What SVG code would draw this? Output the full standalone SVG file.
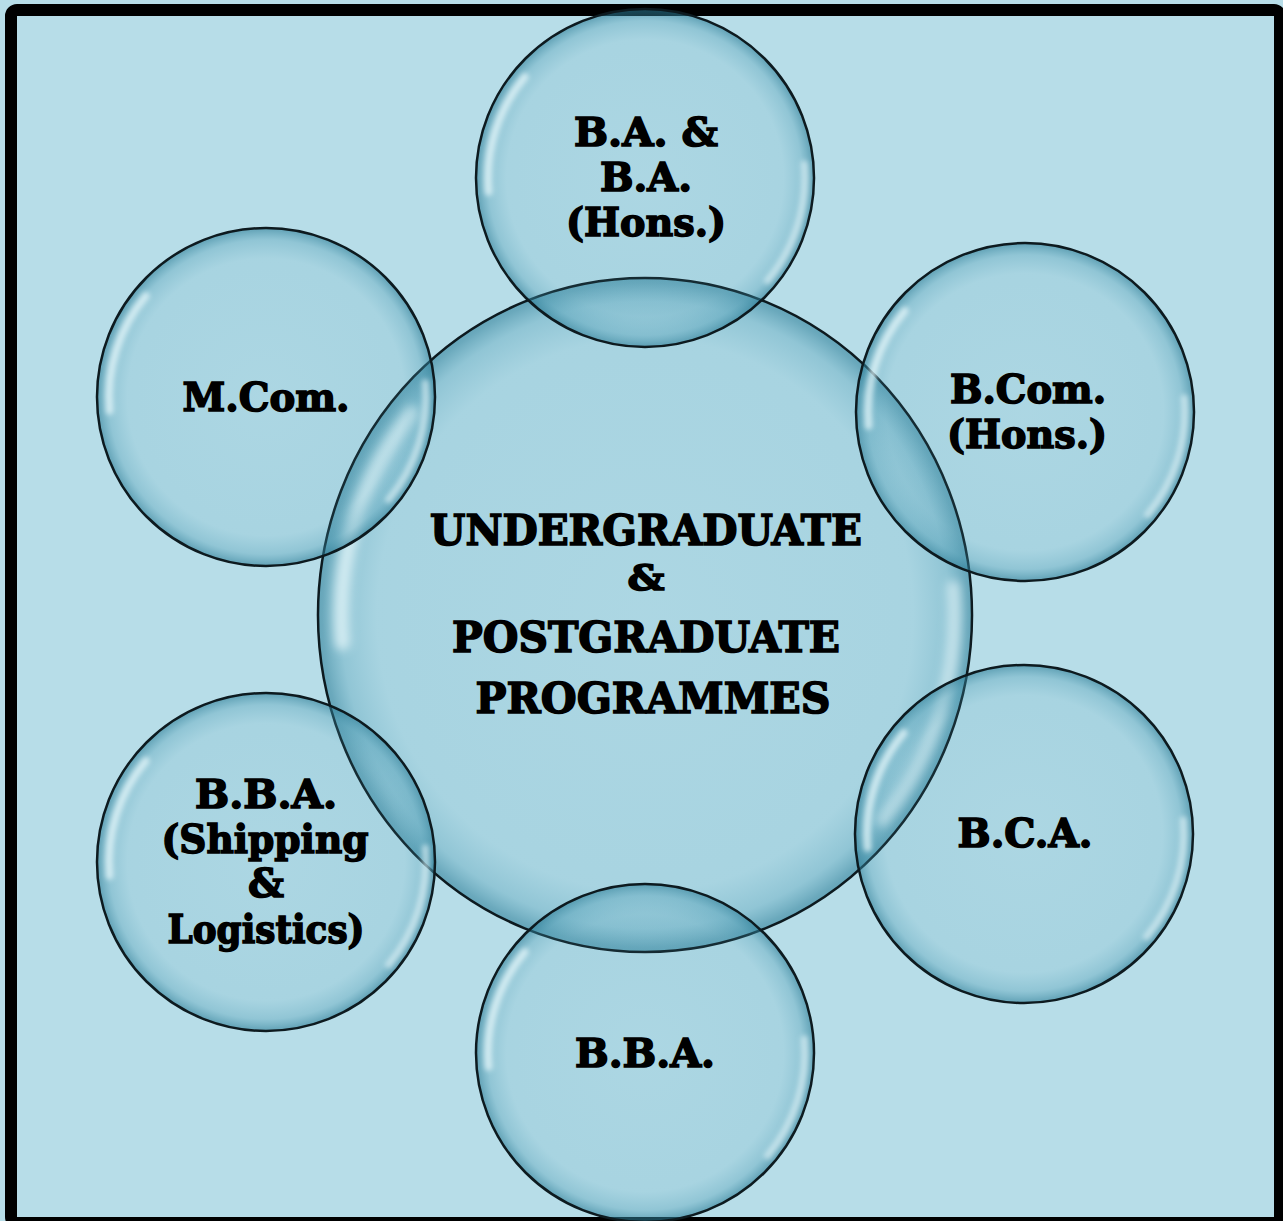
<svg xmlns="http://www.w3.org/2000/svg" xmlns:xlink="http://www.w3.org/1999/xlink" width="1283" height="1221" viewBox="0 0 1283 1221">
<style>
.t{font-family:"DejaVu Serif","Liberation Serif",serif;font-weight:bold;fill:#000;stroke:#000;stroke-width:1.6;text-anchor:middle}
.s{font-size:40px}
.c{font-size:43px}
.a{font-size:36px}
</style>
<defs>
<radialGradient id="body" cx="0.5" cy="0.5" r="0.5">
<stop offset="0" stop-color="#4a9cb5" stop-opacity="0.10"/>
<stop offset="0.82" stop-color="#4a9cb5" stop-opacity="0.14"/>
<stop offset="0.93" stop-color="#3f93ad" stop-opacity="0.32"/>
<stop offset="0.985" stop-color="#2d7f99" stop-opacity="0.55"/>
<stop offset="1" stop-color="#2d7f99" stop-opacity="0.6"/>
</radialGradient>
<filter id="blur" x="-20%" y="-20%" width="140%" height="140%"><feGaussianBlur stdDeviation="2.5"/></filter>
<g id="bubble">
<circle r="169" fill="url(#body)" stroke="#0d1a1f" stroke-width="2.5" vector-effect="non-scaling-stroke"/>
<g fill="none" stroke="#e9f9fc" stroke-linecap="round" filter="url(#blur)">
<path d="M -120.3 -101 A 157 157 0 0 0 -156.4 13.7" stroke-width="8" stroke-opacity="0.7"/>
<path d="M 159.4 -13.9 A 160 160 0 0 1 122.6 102.8" stroke-width="7" stroke-opacity="0.6"/>
</g>
</g>
</defs>
<rect x="0" y="0" width="1283" height="1221" fill="#b7dde8"/>
<rect x="11" y="10" width="1269" height="1213" rx="6" fill="#b7dde8" stroke="#000" stroke-width="12"/>
<g id="connectors"/>
<g id="node-center">
<use xlink:href="#bubble" transform="translate(645 615) scale(1.935 1.994)"/>
<text class="t c" x="646" y="545" textLength="432" lengthAdjust="spacingAndGlyphs">UNDERGRADUATE</text>
<text class="t a" x="646" y="590" textLength="37" lengthAdjust="spacingAndGlyphs">&amp;</text>
<text class="t c" x="646" y="652" textLength="388" lengthAdjust="spacingAndGlyphs">POSTGRADUATE</text>
<text class="t c" x="653" y="713" textLength="355" lengthAdjust="spacingAndGlyphs">PROGRAMMES</text>
</g>
<g id="node-ba">
<use xlink:href="#bubble" transform="translate(645 178)"/>
<text class="t s" x="646" y="146" textLength="144" lengthAdjust="spacingAndGlyphs">B.A. &amp;</text>
<text class="t s" x="646" y="191" textLength="92" lengthAdjust="spacingAndGlyphs">B.A.</text>
<text class="t s" x="646" y="236" textLength="160" lengthAdjust="spacingAndGlyphs">(Hons.)</text>
</g>
<g id="node-bcom">
<use xlink:href="#bubble" transform="translate(1025 412)"/>
<text class="t s" x="1028" y="403" textLength="156" lengthAdjust="spacingAndGlyphs">B.Com.</text>
<text class="t s" x="1027" y="448" textLength="160" lengthAdjust="spacingAndGlyphs">(Hons.)</text>
</g>
<g id="node-bca">
<use xlink:href="#bubble" transform="translate(1024 834)"/>
<text class="t s" x="1025" y="847" textLength="135" lengthAdjust="spacingAndGlyphs">B.C.A.</text>
</g>
<g id="node-bba">
<use xlink:href="#bubble" transform="translate(645 1053)"/>
<text class="t s" x="645" y="1067" textLength="140" lengthAdjust="spacingAndGlyphs">B.B.A.</text>
</g>
<g id="node-bba-shipping">
<use xlink:href="#bubble" transform="translate(266 862)"/>
<text class="t s" x="266" y="808" textLength="142" lengthAdjust="spacingAndGlyphs">B.B.A.</text>
<text class="t s" x="265" y="853" textLength="207" lengthAdjust="spacingAndGlyphs">(Shipping</text>
<text class="t s" x="266" y="897" textLength="36" lengthAdjust="spacingAndGlyphs">&amp;</text>
<text class="t s" x="266" y="943" textLength="197" lengthAdjust="spacingAndGlyphs">Logistics)</text>
</g>
<g id="node-mcom">
<use xlink:href="#bubble" transform="translate(266 397)"/>
<text class="t s" x="266" y="411" textLength="167" lengthAdjust="spacingAndGlyphs">M.Com.</text>
</g>
</svg>
